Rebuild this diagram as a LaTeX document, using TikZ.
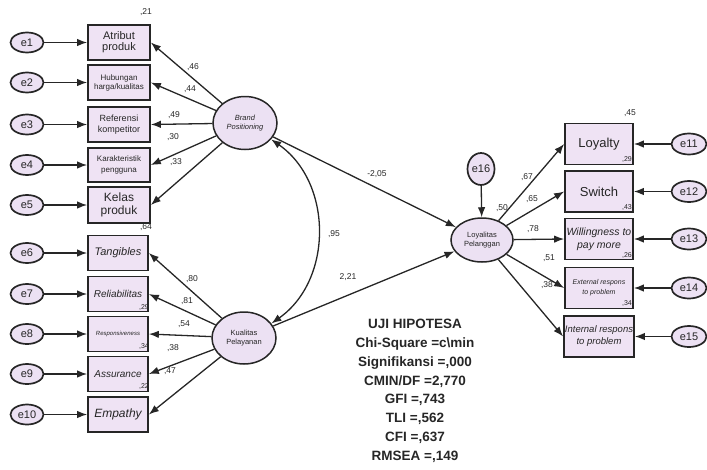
\documentclass[tikz,border=0pt]{standalone}
\usepackage{fontspec}
\setmainfont{Liberation Sans}
\usetikzlibrary{arrows.meta,shapes.geometric}
\definecolor{boxfill}{HTML}{EFE3F4}
\definecolor{latfill}{HTML}{ECE1F3}
\definecolor{ink}{HTML}{262626}
\begin{document}
\begin{tikzpicture}[x=1pt,y=-1pt,
  ind/.style={rectangle, draw=ink, line width=1.7pt, fill=boxfill,
    minimum width=62pt, minimum height=35pt, inner sep=1pt, align=center,
    text=ink},
  rind/.style={ind, minimum width=68pt, minimum height=41pt},
  err/.style={ellipse, draw=ink, line width=1.7pt, fill=latfill,
    minimum width=33pt, minimum height=20pt, inner sep=0pt, text=ink,
    font=\fontsize{11}{11}\selectfont},
  lat/.style={ellipse, draw=ink, line width=1.5pt, fill=latfill,
    inner sep=0pt, align=center, text=ink,
    font=\fontsize{7.5}{8.5}\selectfont},
  reg/.style={-{Latex[length=10pt,width=7.5pt]}, line width=1.3pt, draw=ink},
  lbl/.style={font=\fontsize{8.5}{8.5}\selectfont, text=ink, inner sep=0pt},
  sml/.style={font=\fontsize{7}{7}\selectfont, text=ink, inner sep=0pt}]
\useasboundingbox (0,0) rectangle (707,469);

% latent variables
\node[lat, minimum width=64pt, minimum height=53pt] (bp) at (245,123)
  {\itshape Brand\\\itshape Positioning};
\node[lat, minimum width=64pt, minimum height=52pt] (kp) at (244,338)
  {Kualitas\\Pelayanan};
\node[lat, minimum width=62pt, minimum height=44pt] (lp) at (482,240)
  {Loyalitas\\Pelanggan};
\node[err, minimum width=27pt, minimum height=32pt] (e16) at (481,169) {e16};

% indicators of Brand Positioning
\node[ind, font=\fontsize{11}{11}\selectfont] (x1) at (119,42.5) {Atribut\\produk};
\node[ind, font=\fontsize{8}{9}\selectfont] (x2) at (119,82.5) {Hubungan\\harga/kualitas};
\node[ind, font=\fontsize{9}{10.5}\selectfont] (x3) at (119,124.5) {Referensi\\kompetitor};
\node[ind, minimum height=34pt, font=\fontsize{8}{11}\selectfont] (x4) at (119,165) {Karakteristik\\pengguna};
\node[ind, minimum height=36pt, font=\fontsize{12}{13}\selectfont] (x5) at (119,205) {Kelas\\produk};

% indicators of Kualitas Pelayanan
\node[ind, minimum width=60pt, font=\itshape\fontsize{11}{11}\selectfont] (x6) at (118,253) {Tangibles};
\node[ind, minimum width=60pt, font=\itshape\fontsize{10}{10}\selectfont] (x7) at (118,294) {Reliabilitas};
\node[ind, minimum width=60pt, font=\itshape\fontsize{6}{6}\selectfont] (x8) at (118,334) {Responsiveness};
\node[ind, minimum width=60pt, font=\itshape\fontsize{10}{10}\selectfont] (x9) at (118,374) {Assurance};
\node[ind, minimum width=60pt, font=\itshape\fontsize{12}{12}\selectfont] (x10) at (118,414.5) {Empathy};

% indicators of Loyalitas Pelanggan
\node[rind, font=\fontsize{13}{13}\selectfont] (y1) at (599,144) {Loyalty};
\node[rind, font=\fontsize{13}{13}\selectfont] (y2) at (599,191.5) {Switch};
\node[rind, font=\itshape\fontsize{10.5}{13}\selectfont] (y3) at (599,239) {Willingness to\\pay more};
\node[rind, font=\itshape\fontsize{7}{10}\selectfont] (y4) at (599,288) {External respons\\to problem};
\node[rind, font=\itshape\fontsize{9.5}{12}\selectfont] (y5) at (599,336.5) {Internal respons\\to problem};

% error terms, left
\foreach \n/\y in {1/42.5,2/82.5,3/124.5,4/165,5/205,6/253,7/294,8/334,9/374,10/414.5}
  \node[err] (e\n) at (27,\y) {e\n};
% error terms, right
\foreach \n/\y in {11/144,12/191.5,13/239,14/288,15/336.5}
  \node[err, minimum width=35pt, minimum height=21pt] (e\n) at (689,\y) {e\n};

% error paths
\foreach \n in {1,...,10} \draw[reg] (e\n) -- (x\n);
\draw[reg] (e11) -- (y1);
\draw[reg] (e12) -- (y2);
\draw[reg] (e13) -- (y3);
\draw[reg] (e14) -- (y4);
\draw[reg] (e15) -- (y5);
\draw[reg] (e16) -- (lp);

% loadings
\foreach \n in {1,...,5} \draw[reg] (bp) -- (x\n.east);
\foreach \n in {6,...,10} \draw[reg] (kp) -- (x\n.east);
\foreach \n in {1,...,5} \draw[reg] (lp) -- (y\n.west);

% structural paths and covariance
\draw[reg] (bp) -- (lp);
\draw[reg] (kp) -- (lp);
\draw[{Latex[length=10pt,width=7.5pt]}-{Latex[length=10pt,width=7.5pt]}, line width=1.3pt, draw=ink]
  (bp.-32) to[bend left=55, looseness=1.05] (kp.28);

% estimates
\node[lbl] at (146,12) {,21};
\node[lbl] at (193,67) {,46};
\node[lbl] at (190,89) {,44};
\node[lbl] at (174,115) {,49};
\node[lbl] at (173,137) {,30};
\node[lbl] at (176,162) {,33};
\node[lbl] at (146,227) {,64};
\node[lbl] at (192,279) {,80};
\node[lbl] at (187,301) {,81};
\node[lbl] at (184,324) {,54};
\node[lbl] at (173,348) {,38};
\node[lbl] at (170,371) {,47};
\node[sml] at (144,307) {,29};
\node[sml] at (144,346) {,34};
\node[sml] at (144,386) {,22};
\node[lbl] at (377,174) {-2,05};
\node[lbl] at (348,277) {2,21};
\node[lbl] at (334,234) {,95};
\node[lbl] at (502,208) {,50};
\node[lbl] at (630,113) {,45};
\node[sml] at (627,160) {,29};
\node[sml] at (627,207) {,43};
\node[sml] at (627,255) {,26};
\node[sml] at (627,303) {,34};
\node[lbl] at (527,177) {,67};
\node[lbl] at (532,199) {,65};
\node[lbl] at (533,229) {,78};
\node[lbl] at (549,258) {,51};
\node[lbl] at (547,285) {,38};

% fit summary
\node[anchor=north, align=center, inner sep=0pt, text=ink,
  font=\bfseries\fontsize{13.5}{18.8}\selectfont] (fit) at (415,319)
  {UJI HIPOTESA\\
   Chi-Square =c\textbackslash min\\
   Signifikansi =,000\\
   CMIN/DF =2,770\\
   GFI =,743\\
   TLI =,562\\
   CFI =,637\\
   RMSEA =,149};
\end{tikzpicture}
\end{document}
